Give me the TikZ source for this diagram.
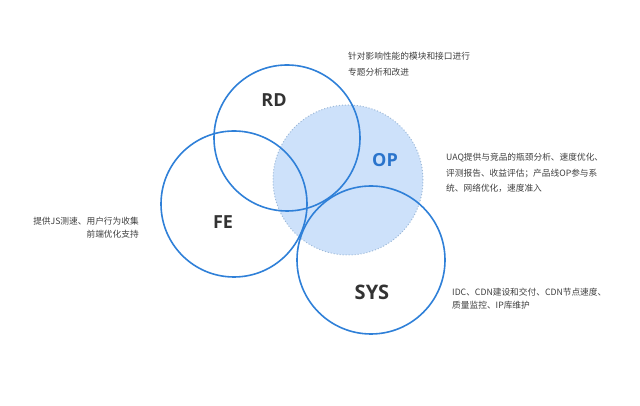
\documentclass[tikz,border=0pt]{standalone}
\usepackage{fontspec}
\setmainfont{Open Sans}
\newfontfamily\cjk{Noto Sans CJK SC}
\definecolor{ringblue}{HTML}{2F80D8}
\definecolor{opfill}{HTML}{CDE1FA}
\definecolor{opdots}{HTML}{9DB9D8}
\definecolor{optext}{HTML}{2A74CC}
\definecolor{notegray}{HTML}{3E3E3E}
\definecolor{labelgray}{HTML}{333333}
\begin{document}
\begin{tikzpicture}[x=1pt,y=1pt,
  ring/.style={circle,draw=ringblue,line width=1.6pt,inner sep=0pt},
  tag/.style={font=\fontsize{18}{18}\selectfont\bfseries,text=labelgray},
  note/.style={font=\cjk\fontsize{8.7}{15.5}\selectfont,text=notegray,inner sep=0pt}]
\useasboundingbox (0,0) rectangle (640,406);

\node[circle,fill=opfill,draw=opdots,dotted,line width=1pt,minimum size=150pt,inner sep=0pt] (op) at (348,226) {};
\node[ring,minimum size=146pt] (rd) at (287,268) {};
\node[ring,minimum size=146pt] (fe) at (234,202) {};
\node[ring,minimum size=148pt] (sys) at (371,146) {};

\node[tag] (rdtag) at (274,306) {RD};
\node[tag] (fetag) at (223,184) {FE};
\node[tag,text=optext] (optag) at (385,246) {OP};
\node[tag,font=\fontsize{20}{20}\selectfont\bfseries] (systag) at (372,114) {SYS};

\node[note,align=left,anchor=west] (rdnote) at (348,342) {针对影响性能的模块和接口进行\\专题分析和改进};
\node[note,align=left,anchor=west] (opnote) at (446,233) {UAQ提供与竞品的瓶颈分析、速度优化、\\评测报告、收益评估；产品线OP参与系\\统、网络优化，速度准入};
\node[note,align=right,anchor=east,font=\cjk\fontsize{8.7}{13.5}\selectfont] (fenote) at (139,178.5) {提供JS测速、用户行为收集\\前端优化支持};
\node[note,align=left,anchor=west,font=\cjk\fontsize{8.7}{13.5}\selectfont] (sysnote) at (452,107.5) {IDC、CDN建设和交付、CDN节点速度、\\质量监控、IP库维护};

\end{tikzpicture}
\end{document}
